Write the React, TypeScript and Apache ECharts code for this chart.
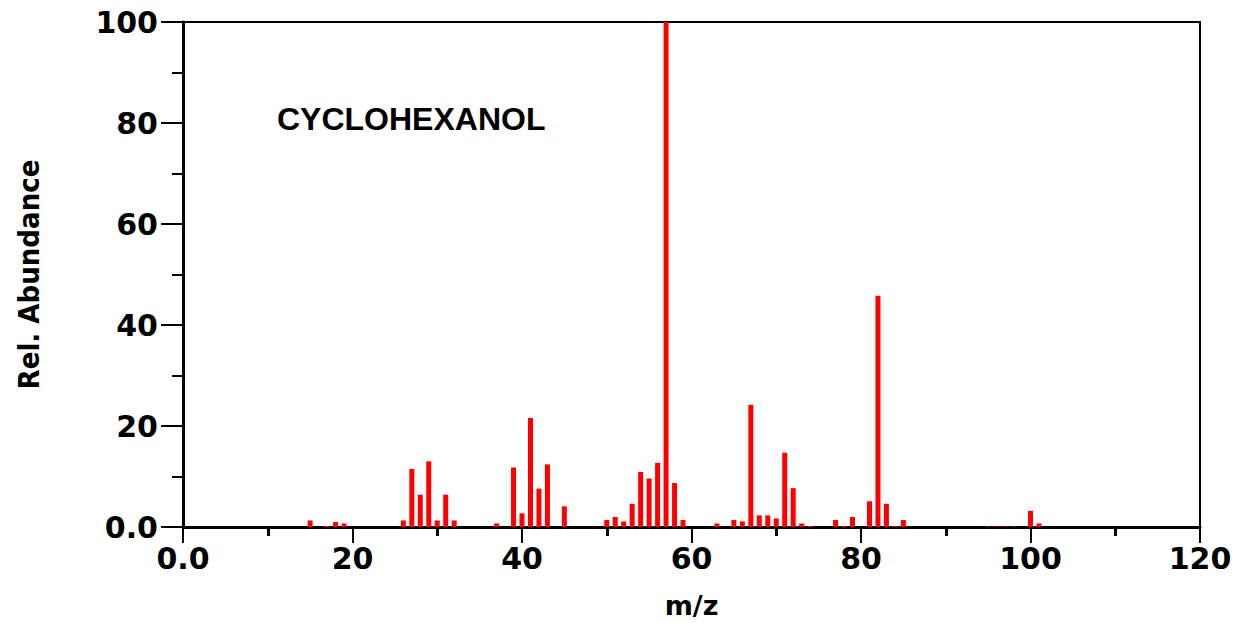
import React, { useEffect, useRef } from "react";
import * as echarts from "echarts";

const mzValues = [15, 17, 18, 19, 26, 27, 28, 29, 30, 31, 32, 37, 39, 40, 41, 42, 43, 45, 50, 51, 52, 53, 54, 55, 56, 57, 58, 59, 63, 65, 66, 67, 68, 69, 70, 71, 72, 73, 74, 77, 78, 79, 81, 82, 83, 84, 85, 95, 96, 97, 98, 100, 101];
const abundance = [1.3, 0.2, 1.0, 0.7, 1.3, 11.5, 6.4, 13.0, 1.3, 6.4, 1.3, 0.7, 11.8, 2.7, 21.6, 7.6, 12.4, 4.1, 1.4, 2.0, 1.1, 4.6, 10.9, 9.6, 12.7, 100, 8.7, 1.4, 0.7, 1.4, 1.1, 24.2, 2.3, 2.3, 1.7, 14.7, 7.7, 0.7, 0.2, 1.4, 0.2, 2.0, 5.1, 45.8, 4.6, 0.2, 1.4, 0.1, 0.1, 0.1, 0.1, 3.2, 0.7];
const compoundName = "CYCLOHEXANOL";
const xAxisTitle = "m/z";
const yAxisTitle = "Rel. Abundance";

const fmt = (v: number) => (v === 0 ? "0.0" : String(v));

export default function App() {
  const ref = useRef<HTMLDivElement>(null);
  useEffect(() => {
    if (!ref.current) return;
    const chart = echarts.init(ref.current, null, { renderer: "svg" });
    const labelFont = {
      color: "#000",
      fontFamily: "DejaVu Sans",
      fontWeight: "bold" as const,
      fontSize: 30,
    };
    chart.setOption({
      animation: false,
      backgroundColor: "#fff",
      title: {
        text: compoundName,
        left: 272,
        top: 98,
        textStyle: { fontFamily: "Liberation Sans", fontWeight: "bold", fontSize: 32, color: "#000" },
      },
      grid: {
        left: 183,
        right: 38,
        top: 22,
        bottom: 96,
        outerBoundsMode: "none",
        containLabel: false,
        show: true,
        borderColor: "#000",
        borderWidth: 2,
        backgroundColor: "transparent",
      },
      xAxis: {
        type: "value",
        min: 0,
        max: 120,
        interval: 20,
        name: xAxisTitle,
        nameLocation: "middle",
        nameGap: 65,
        nameTextStyle: { color: "#000", fontFamily: "DejaVu Sans", fontSize: 27, fontWeight: "bold" },
        axisLine: { show: true, lineStyle: { color: "#000", width: 3 } },
        axisTick: { show: true, length: 16, lineStyle: { color: "#000", width: 2 } },
        minorTick: { show: true, splitNumber: 2, length: 9, lineStyle: { color: "#000", width: 3 } },
        axisLabel: { ...labelFont, margin: 16, formatter: fmt },
        splitLine: { show: false },
      },
      yAxis: {
        type: "value",
        min: 0,
        max: 100,
        interval: 20,
        name: yAxisTitle,
        nameLocation: "middle",
        nameRotate: 90,
        nameGap: 140,
        nameTextStyle: { color: "#000", fontFamily: "DejaVu Sans Condensed", fontSize: 29, fontWeight: "bold" },
        axisLine: { show: true, lineStyle: { color: "#000", width: 3 } },
        axisTick: { show: true, length: 22, lineStyle: { color: "#000", width: 2 } },
        minorTick: { show: true, splitNumber: 2, length: 11, lineStyle: { color: "#000", width: 2 } },
        axisLabel: { ...labelFont, margin: 25, formatter: fmt },
        splitLine: { show: false },
      },
      series: [
        {
          type: "bar",
          barWidth: 5,
          itemStyle: { color: "#ff0000" },
          data: mzValues.map((m, i) => [m, abundance[i]]),
        },
      ],
    });
    return () => chart.dispose();
  }, []);
  return <div ref={ref} style={{ width: 1238, height: 623, position: "absolute", left: 0, top: 0 }} />;
}
